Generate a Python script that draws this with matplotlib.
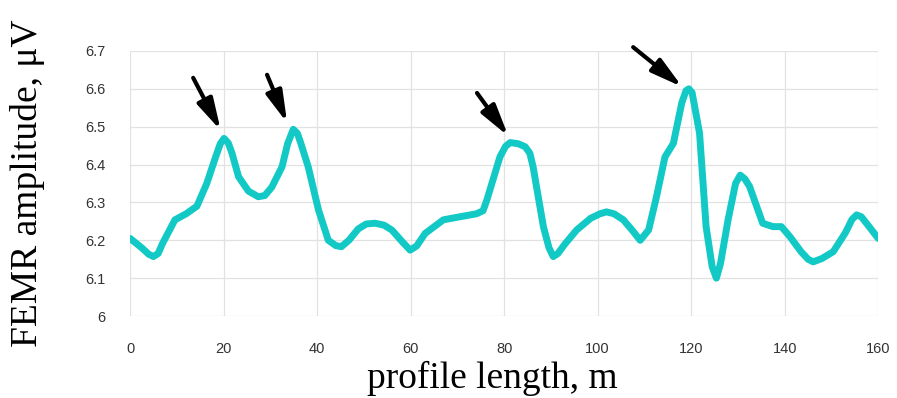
import matplotlib
matplotlib.use("Agg")
import matplotlib.pyplot as plt

# Data
profile_x = [0, 2.5, 4, 5, 6, 7, 9.6, 12, 14.3, 16.4, 18.3, 19.3, 20.1, 21, 21.8, 23.2,
             25.3, 27.4, 28.8, 30.3, 32.5, 33.7, 34.9, 35.8, 36.5, 38.1, 40.3, 42.4,
             44, 45.2, 46.8, 48.8, 50.5, 52.4, 54.3, 56, 58.3, 59.9, 61.3,
             63.1, 67, 70.5, 74.1, 75.5, 76.3, 79.1, 80.3, 81.3, 83, 84.5, 85.5, 86.2,
             88.4, 89.6, 90.5, 91.5, 93, 95.5, 98.5, 100.5, 101.9, 103.5, 105.5,
             107.5, 109.1, 110.9, 112.5, 114.4, 116.2, 118, 118.9, 119.5, 120.2,
             120.8, 121.8, 123.2, 124.5, 125.4, 126.3, 127.9, 129.5, 130.5, 131.5,
             132.5, 135.3, 137.5, 139.3, 141.1, 143.5, 145, 146.1, 148, 150.4, 153,
             154.4, 155.4, 156.4, 157.5, 160]
femr_amp = [6.205, 6.18, 6.163, 6.157, 6.165, 6.193, 6.254, 6.27, 6.29, 6.35, 6.42,
            6.455, 6.469, 6.457, 6.43, 6.368, 6.33, 6.315, 6.318, 6.34, 6.394, 6.455,
            6.493, 6.482, 6.457, 6.394, 6.28, 6.2, 6.186, 6.183, 6.2, 6.23, 6.243,
            6.245, 6.24, 6.227, 6.195, 6.174, 6.185, 6.218, 6.254, 6.262, 6.27, 6.278,
            6.306, 6.42, 6.448, 6.458, 6.455, 6.447, 6.43, 6.394, 6.236, 6.18, 6.157,
            6.165, 6.19, 6.227, 6.258, 6.27, 6.275, 6.27, 6.254, 6.225, 6.2, 6.227,
            6.31, 6.42, 6.456, 6.563, 6.595, 6.6, 6.59, 6.55, 6.483, 6.236, 6.13,
            6.1, 6.14, 6.254, 6.35, 6.372, 6.362, 6.342, 6.245, 6.236, 6.236, 6.21,
            6.17, 6.15, 6.143, 6.152, 6.17, 6.22, 6.255, 6.267, 6.262, 6.245, 6.205]

x_ticks = [0, 20, 40, 60, 80, 100, 120, 140, 160]
y_ticks = [6.0, 6.1, 6.2, 6.3, 6.4, 6.5, 6.6, 6.7]
y_tick_labels = ["6", "6.1", "6.2", "6.3", "6.4", "6.5", "6.6", "6.7"]

# Arrow annotations (tip, tail) in data coords
arrow_tips = [(19.4, 6.49), (33.6, 6.51), (80.9, 6.475), (118.1, 6.605)]
arrow_tails = [(13.5, 6.629), (29.3, 6.637), (74.2, 6.589), (107.6, 6.71)]

fig = plt.figure(figsize=(8.97, 3.98), dpi=100)
ax = fig.add_axes([0.145, 0.206, 0.834, 0.666])

ax.plot(profile_x, femr_amp, color="#12C9C6", lw=5, solid_joinstyle="round",
        solid_capstyle="round", zorder=3)

ax.set_xlim(0, 160)
ax.set_ylim(6.0, 6.7)
ax.set_xticks(x_ticks)
ax.set_yticks(y_ticks)
ax.set_yticklabels(y_tick_labels)
ax.grid(True, color="#e2e2e2", lw=0.9)
ax.set_axisbelow(True)
for s in ax.spines.values():
    s.set_visible(False)
ax.tick_params(length=0, labelsize=10.5, labelcolor="#333333")
ax.tick_params(axis="x", pad=19)
ax.tick_params(axis="y", pad=18)
for lab in ax.get_xticklabels() + ax.get_yticklabels():
    lab.set_family("Liberation Sans")

for tip, tail in zip(arrow_tips, arrow_tails):
    ax.annotate("", xy=tip, xytext=tail, annotation_clip=False,
                arrowprops=dict(arrowstyle="-|>,head_length=1.9,head_width=0.5",
                                lw=3, color="black", shrinkA=0, shrinkB=0),
                zorder=4)

fig.text(0.549, 0.05, "profile length, m", ha="center", va="center",
         family="Liberation Serif", fontsize=27)
fig.text(0.031, 0.54, "FEMR amplitude, \u03bcV", ha="center", va="center",
         rotation=90, family="Liberation Serif", fontsize=27)

fig.savefig("out.png", dpi=100, facecolor="white")
